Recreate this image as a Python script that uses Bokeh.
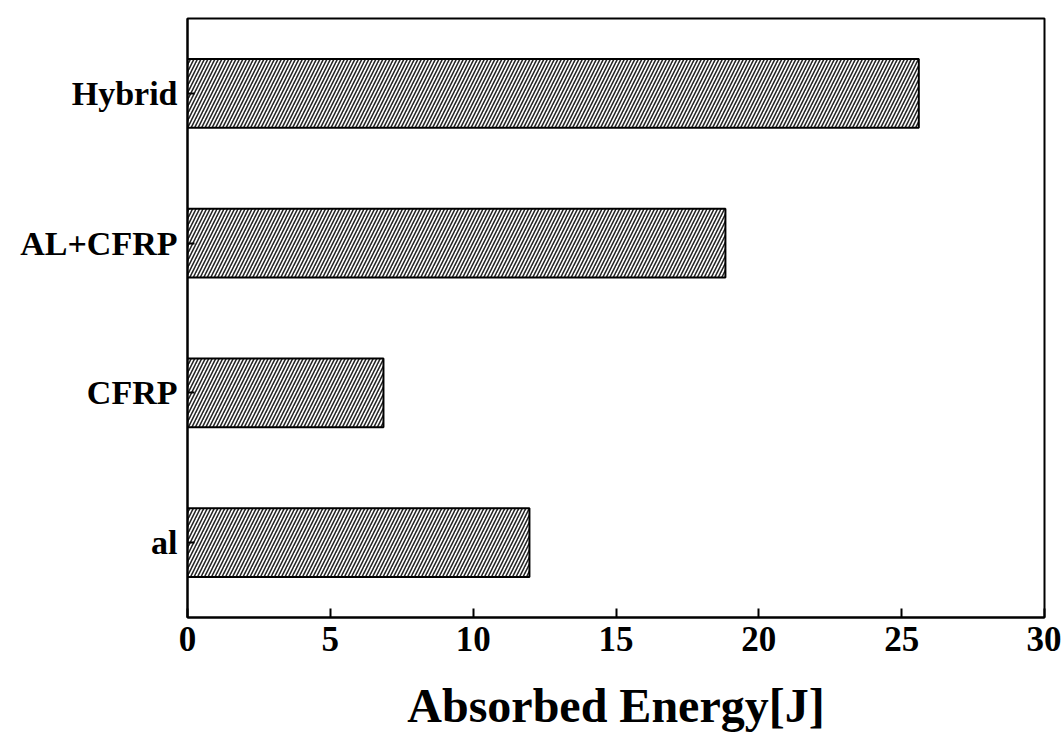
from bokeh.plotting import figure
from bokeh.models import FactorRange, Range1d, FixedTicker
from bokeh.embed import file_html
from bokeh.resources import INLINE

categories = ["al", "CFRP", "AL+CFRP", "Hybrid"]
energy = [11.97, 6.86, 18.83, 25.6]
x_ticks = [0, 5, 10, 15, 20, 25, 30]

FONT = "Liberation Serif"

p = figure(width=1061, height=735, output_backend="svg", toolbar_location=None,
           y_range=FactorRange(*categories), x_range=Range1d(0, 30),
           min_border_left=187, min_border_top=18, min_border_right=17, min_border_bottom=118)

p.hbar(y=categories, right=energy, left=0, height=0.46,
       fill_color="white", line_color="black", line_width=2,
       hatch_pattern="/", hatch_color="black", hatch_scale=7, hatch_weight=1.6, hatch_alpha=0.85)

p.xgrid.visible = False
p.ygrid.visible = False
p.outline_line_color = "black"
p.outline_line_width = 2

xa = p.xaxis[0]
xa.ticker = FixedTicker(ticks=x_ticks)
xa.major_tick_in = 9
xa.major_tick_out = 0
xa.minor_tick_line_color = None
xa.axis_line_width = 2
xa.major_tick_line_width = 2
xa.major_label_text_font = FONT
xa.major_label_text_font_style = "bold"
xa.major_label_text_font_size = "35px"
xa.major_label_text_color = "black"
xa.major_label_standoff = 9
xa.axis_label = "Absorbed Energy[J]"
xa.axis_label_text_font = FONT
xa.axis_label_text_font_style = "bold"
xa.axis_label_text_font_size = "48px"
xa.axis_label_text_color = "black"
xa.axis_label_standoff = 25

ya = p.yaxis[0]
ya.major_tick_in = 7
ya.major_tick_out = 0
ya.axis_line_width = 2
ya.major_tick_line_width = 2
ya.major_label_text_font = FONT
ya.major_label_text_font_style = "bold"
ya.major_label_text_font_size = "34px"
ya.major_label_text_color = "black"
ya.major_label_standoff = 10

open("out.html", "w").write(file_html(p, INLINE))
